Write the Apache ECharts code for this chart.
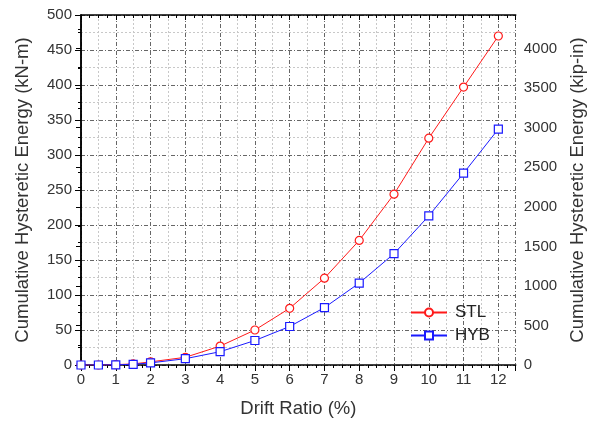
<!DOCTYPE html>
<html>
<head>
<meta charset="utf-8">
<script src="https://cdn.jsdelivr.net/npm/echarts@6/dist/echarts.min.js"></script>
<style>
  html, body { margin: 0; padding: 0; background: #fff; }
  #chart { width: 595px; height: 423px; }
</style>
</head>
<body>
<div id="chart"></div>
<script>
// drift ratio (%)
const drift = [0, 0.5, 1, 1.5, 2, 3, 4, 5, 6, 7, 8, 9, 10, 11, 12];
// cumulative hysteretic energy (kN-m)
const stl = [0, 0, 0.5, 1.5, 4.5, 11, 27, 50, 81, 124, 178, 244, 324, 397, 470];
const hyb = [0, 0, 0.3, 1, 3, 9, 19, 35, 55, 82, 117, 159, 213, 274, 337];
const KNM_TO_KIPIN = 8.8507;

const font = 'Liberation Sans';
const majorLine = { color: '#666', width: 1, type: [4, 2, 1, 2] };
const minorLine = { color: '#c8c8c8', width: 1, type: [2, 2] };
const axisLine = { show: true, lineStyle: { color: '#000', width: 1.5 } };
const tickStyle = { color: '#000', width: 1 };

const chart = echarts.init(document.getElementById('chart'));

function pairs(ys) {
  return drift.map((x, i) => [x, ys[i]]);
}

chart.setOption({
  backgroundColor: '#fff',
  animation: false,
  grid: { left: 81, right: 79, top: 15, bottom: 58 },
  legend: {
    left: 410, top: 304, padding: 0,
    orient: 'vertical',
    itemWidth: 36, itemHeight: 10, itemGap: 6,
    textStyle: { fontFamily: font, fontSize: 17, color: '#222', lineHeight: 10, padding: [0, 0, 0, 3] },
    data: ['STL', 'HYB']
  },
  xAxis: [
    {
      type: 'value', min: 0, max: 12.5, interval: 1, position: 'bottom',
      name: 'Drift Ratio (%)', nameLocation: 'middle', nameGap: 34,
      nameTextStyle: { fontFamily: font, fontSize: 18.5, color: '#333' },
      axisLine: axisLine,
      axisTick: { inside: false, length: 6, lineStyle: tickStyle },
      minorTick: { show: false, splitNumber: 2 },
      axisLabel: {
        fontFamily: font, fontSize: 15, color: '#333', margin: 7,
        formatter: v => Number.isInteger(v) ? String(v) : ''
      },
      splitLine: { show: true, lineStyle: majorLine },
      minorSplitLine: { show: true, lineStyle: minorLine }
    },
    {
      // quarter-step minor ticks along the bottom
      type: 'value', min: 0, max: 12.5, interval: 1, position: 'bottom',
      axisLine: { show: false },
      axisTick: { show: false },
      minorTick: { show: true, splitNumber: 4, length: 3, lineStyle: tickStyle },
      axisLabel: { show: false },
      splitLine: { show: false }
    },
    {
      type: 'value', min: 0, max: 12.5, interval: 1, position: 'top',
      axisLine: axisLine,
      axisTick: { inside: true, length: 5, lineStyle: tickStyle },
      minorTick: { show: true, splitNumber: 4, length: 3, lineStyle: tickStyle },
      axisLabel: { show: false },
      splitLine: { show: false }
    }
  ],
  yAxis: [
    {
      type: 'value', min: 0, max: 500, interval: 50, position: 'left',
      name: 'Cumulative Hysteretic Energy (kN-m)', nameLocation: 'middle', nameGap: 49,
      nameTextStyle: { fontFamily: font, fontSize: 18.5, color: '#333' },
      axisLine: axisLine,
      axisTick: { inside: false, length: 6, lineStyle: tickStyle },
      minorTick: { show: true, splitNumber: 2, length: 3, lineStyle: tickStyle },
      axisLabel: { fontFamily: font, fontSize: 15, color: '#333', margin: 9 },
      splitLine: { show: true, lineStyle: majorLine },
      minorSplitLine: { show: true, lineStyle: minorLine }
    },
    {
      type: 'value', min: 0, max: 500 * KNM_TO_KIPIN, interval: 500, position: 'right',
      name: 'Cumulative Hysteretic Energy (kip-in)', nameLocation: 'middle', nameGap: 52,
      nameRotate: 90,
      nameTextStyle: { fontFamily: font, fontSize: 18.5, color: '#333' },
      axisLine: axisLine,
      axisTick: { inside: true, length: 5, lineStyle: tickStyle },
      minorTick: { show: true, splitNumber: 2, length: 3, lineStyle: tickStyle },
      axisLabel: {
        fontFamily: font, fontSize: 15, color: '#333', margin: 8,
        formatter: v => (v % 500 === 0) ? String(v) : ''
      },
      splitLine: { show: false }
    }
  ],
  series: [
    {
      name: 'STL', type: 'line', data: pairs(stl),
      symbol: 'circle', symbolSize: 8,
      lineStyle: { color: '#ff1a1a', width: 1 },
      itemStyle: { color: '#fff', borderColor: '#ff1a1a', borderWidth: 1.2 },
      z: 3
    },
    {
      name: 'HYB', type: 'line', data: pairs(hyb),
      symbol: 'rect', symbolSize: 8,
      lineStyle: { color: '#1a1aff', width: 1 },
      itemStyle: { color: '#fff', borderColor: '#1a1aff', borderWidth: 1.2 },
      z: 4
    }
  ]
});
</script>
</body>
</html>
